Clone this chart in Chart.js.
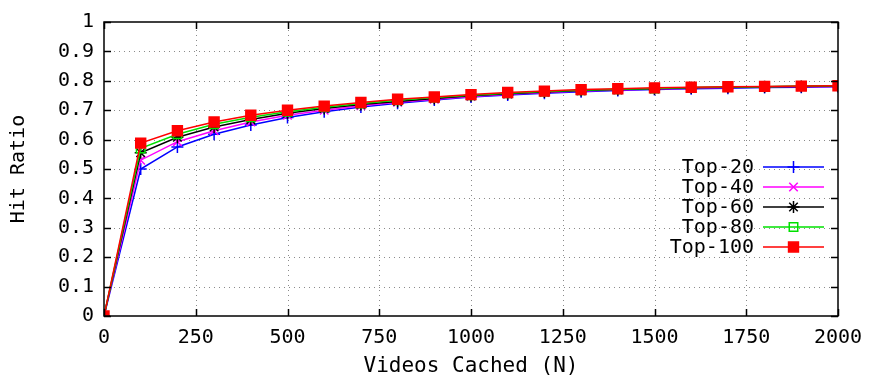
<!DOCTYPE html>
<html>
<head>
<meta charset="utf-8">
<script src="https://cdn.jsdelivr.net/npm/chart.js@4"></script>
<style>
  html, body { margin: 0; padding: 0; background: #fff; }
</style>
</head>
<body>
<canvas id="chartHit" width="877" height="379"></canvas>
<script>
const FONT = '"DejaVu Sans Mono", "Liberation Mono", monospace';

// videos cached (N)
const cached = [0, 100, 200, 300, 400, 500, 600, 700, 800, 900, 1000,
  1100, 1200, 1300, 1400, 1500, 1600, 1700, 1800, 1900, 2000];

const top20 = [0, 0.50, 0.575, 0.618, 0.650, 0.675, 0.695, 0.711, 0.724, 0.735, 0.745,
  0.752, 0.758, 0.763, 0.767, 0.770, 0.773, 0.775, 0.777, 0.778, 0.780];
const top40 = [0, 0.53, 0.593, 0.630, 0.660, 0.683, 0.700, 0.715, 0.727, 0.737, 0.747,
  0.754, 0.760, 0.765, 0.769, 0.772, 0.775, 0.777, 0.779, 0.780, 0.781];
const top60 = [0, 0.555, 0.608, 0.643, 0.668, 0.690, 0.706, 0.719, 0.730, 0.740, 0.749,
  0.756, 0.762, 0.767, 0.770, 0.773, 0.776, 0.778, 0.780, 0.781, 0.782];
const top80 = [0, 0.570, 0.618, 0.652, 0.676, 0.695, 0.710, 0.723, 0.734, 0.743, 0.751,
  0.758, 0.764, 0.768, 0.771, 0.774, 0.777, 0.779, 0.780, 0.782, 0.783];
const top100 = [0, 0.588, 0.630, 0.660, 0.683, 0.700, 0.714, 0.726, 0.737, 0.745, 0.753,
  0.760, 0.765, 0.770, 0.773, 0.776, 0.778, 0.780, 0.781, 0.782, 0.783];

const seriesNames = ['Top-20', 'Top-40', 'Top-60', 'Top-80', 'Top-100'];
const xTicks = [0, 250, 500, 750, 1000, 1250, 1500, 1750, 2000];
const yTicks = [0, 0.1, 0.2, 0.3, 0.4, 0.5, 0.6, 0.7, 0.8, 0.9, 1];

function pts(vals) {
  return vals.map((v, i) => ({ x: cached[i], y: v }));
}

function ds(label, vals, color, style, radius, fill, order) {
  return {
    label: label,
    data: pts(vals),
    borderColor: color,
    backgroundColor: fill ? color : 'rgba(0,0,0,0)',
    pointBorderColor: color,
    pointBackgroundColor: fill ? color : 'rgba(0,0,0,0)',
    pointStyle: style,
    pointRadius: radius,
    pointBorderWidth: 1.5,
    borderWidth: 1.5,
    tension: 0,
    order: order
  };
}

// dotted grid drawn under the data
const gridPlugin = {
  id: 'dotgrid',
  beforeDatasetsDraw(chart) {
    const ctx = chart.ctx;
    const a = chart.chartArea;
    const xs = chart.scales.x, ys = chart.scales.y;
    ctx.save();
    ctx.strokeStyle = '#8a8a8a';
    ctx.lineWidth = 1;
    ctx.setLineDash([1, 4]);
    ctx.beginPath();
    xTicks.slice(1, -1).forEach(t => {
      const px = Math.round(xs.getPixelForValue(t)) + 0.5;
      ctx.moveTo(px, a.bottom); ctx.lineTo(px, a.top);
    });
    yTicks.slice(1, -1).forEach(t => {
      const py = Math.round(ys.getPixelForValue(t)) + 0.5;
      ctx.moveTo(a.left, py); ctx.lineTo(a.right, py);
    });
    ctx.stroke();
    ctx.restore();
  }
};

// inward tick marks, border box and the in-plot legend (gnuplot look)
const framePlugin = {
  id: 'frame',
  afterDraw(chart) {
    const ctx = chart.ctx;
    const a = chart.chartArea;
    const xs = chart.scales.x, ys = chart.scales.y;
    ctx.save();
    ctx.strokeStyle = '#000';
    ctx.lineWidth = 1.5;
    ctx.beginPath();
    xTicks.forEach(t => {
      const px = Math.round(xs.getPixelForValue(t)) + 0.5;
      ctx.moveTo(px, a.bottom); ctx.lineTo(px, a.bottom - 7);
      ctx.moveTo(px, a.top); ctx.lineTo(px, a.top + 7);
    });
    yTicks.forEach(t => {
      const py = Math.round(ys.getPixelForValue(t)) + 0.5;
      ctx.moveTo(a.left, py); ctx.lineTo(a.left + 7, py);
      ctx.moveTo(a.right, py); ctx.lineTo(a.right - 7, py);
    });
    ctx.stroke();
    ctx.strokeRect(a.left, a.top, a.right - a.left, a.bottom - a.top);

    // legend
    const textRight = a.right - 84;
    const lineL = a.right - 75, lineR = a.right - 14;
    const mid = (lineL + lineR) / 2;
    ctx.font = '20px ' + FONT;
    ctx.textAlign = 'right';
    ctx.textBaseline = 'middle';
    chart.data.datasets.forEach((d, i) => {
      const y = 167 + i * 20;
      ctx.fillStyle = '#000';
      ctx.fillText(d.label, textRight, y + 1);
      ctx.strokeStyle = d.borderColor;
      ctx.lineWidth = 1.5;
      ctx.beginPath();
      ctx.moveTo(lineL, y); ctx.lineTo(lineR, y);
      ctx.stroke();
      ctx.fillStyle = d.pointBackgroundColor;
      ctx.strokeStyle = d.pointBorderColor;
      Chart.helpers.drawPoint(ctx, {
        pointStyle: d.pointStyle,
        radius: d.pointRadius,
        borderWidth: d.pointBorderWidth,
        rotation: 0
      }, mid, y);
    });
    ctx.restore();
  }
};

const chartHit = document.getElementById('chartHit');

new Chart(chartHit, {
  type: 'line',
  data: {
    datasets: [
      ds(seriesNames[0], top20, '#0000ff', 'cross', 6, false, 5),
      ds(seriesNames[1], top40, '#ff00ff', 'crossRot', 6, false, 4),
      ds(seriesNames[2], top60, '#000000', 'star', 6, false, 3),
      ds(seriesNames[3], top80, '#00e000', 'rect', 6, false, 2),
      ds(seriesNames[4], top100, '#ff0000', 'rect', 7, true, 1)
    ]
  },
  options: {
    responsive: false,
    animation: false,
    devicePixelRatio: 1,
    layout: { padding: { top: 14, right: 39, left: 3, bottom: 0 } },
    plugins: { legend: { display: false }, tooltip: { enabled: false } },
    scales: {
      x: {
        type: 'linear',
        min: 0, max: 2000,
        afterBuildTicks: s => { s.ticks = xTicks.map(v => ({ value: v })); },
        afterFit: s => { s.height = 63; },
        grid: { display: false, drawTicks: false },
        border: { display: false },
        ticks: {
          color: '#000', font: { family: FONT, size: 20 }, padding: 10, maxRotation: 0, autoSkip: false,
          callback: v => String(v)
        },
        title: { display: true, text: 'Videos Cached (N)', color: '#000', font: { family: FONT, size: 21 }, padding: { top: 0, bottom: 0 } }
      },
      y: {
        min: 0, max: 1,
        afterBuildTicks: s => { s.ticks = yTicks.map(v => ({ value: v })); },
        afterFit: s => { s.width = 101; },
        grid: { display: false, drawTicks: false },
        border: { display: false },
        ticks: {
          color: '#000', font: { family: FONT, size: 20 }, padding: 10, autoSkip: false,
          callback: v => String(Math.round(v * 10) / 10)
        },
        title: { display: true, text: 'Hit Ratio', color: '#000', font: { family: FONT, size: 20 }, padding: { bottom: 0 } }
      }
    }
  },
  plugins: [gridPlugin, framePlugin]
});
</script>
</body>
</html>
